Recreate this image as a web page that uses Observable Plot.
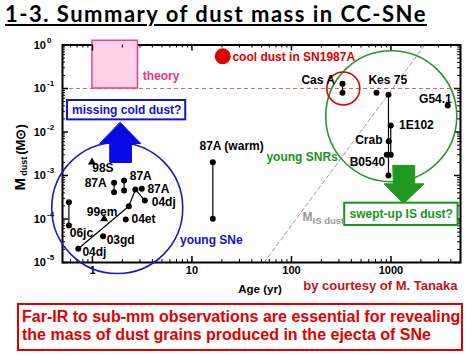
<!DOCTYPE html>
<html><head><meta charset="utf-8">
<script src="https://cdn.jsdelivr.net/npm/d3@7"></script>
<script src="https://cdn.jsdelivr.net/npm/@observablehq/plot@0.6"></script>
<style>
body{margin:0;background:#fff;}
#wrap{position:relative;width:474px;height:355px;overflow:hidden;font-family:"Liberation Sans",Arial,sans-serif;background:#fff;}
#title{position:absolute;left:5px;top:0px;font-family:Lato,"Open Sans",sans-serif;font-weight:bold;font-size:22px;letter-spacing:1.5px;text-decoration:underline;white-space:nowrap;color:#000;}
#chart{position:absolute;left:0;top:34px;}
#note{position:absolute;left:17px;top:303px;width:446px;height:48px;box-sizing:border-box;border:2px solid #e00000;color:#e00000;font-weight:bold;font-size:16px;line-height:17.7px;padding:3px 0 0 3px;white-space:nowrap;}
</style></head>
<body>
<div id="wrap">
<div id="title">1-3. Summary of dust mass in CC-SNe</div>
<div id="chart"></div>
<div id="note">Far-IR to sub-mm observations are essential for revealing<br>the mass of dust grains produced in the ejecta of SNe</div>
</div>
<script>
// ---- axis ticks ----
const xMajor = [1, 10, 100, 1000];
const xTickLabels = ["1", "10", "100", "1000"];
const yMajor = [1e-5, 1e-4, 1e-3, 1e-2, 1e-1, 1];
const yExponents = ["-5", "-4", "-3", "-2", "-1", "0"];
const minorMultipliers = [2, 3, 4, 5, 6, 7, 8, 9];

// ---- young SNe (dots) ----
const sneName  = ["06jc", "06jc", "87A", "87A", "87A", "87A", "04dj", "04dj", "04dj", "04dj", "87A", "04et", "03gd"];
const sneTrack = ["06jc", "06jc", "87Aa", "87Aa", "87Ab", "87Ab", "04dj", "04dj", "04dj", "04dj", null, null, null];
const sneAge   = [0.58, 0.58, 1.65, 1.65, 2.08, 2.08, 0.72, 2.32, 2.70, 3.36, 3.13, 2.16, 1.28];
const sneMass  = [2.43e-4, 7.09e-5, 6.79e-4, 4.13e-4, 7.67e-4, 4.52e-4, 2.07e-5, 1.97e-4, 4.77e-4, 2.66e-4, 4.95e-4, 9.75e-5, 4.03e-5];

// ---- young SNe (triangles) ----
const triName = ["98S", "99em"];
const triAge  = [0.99, 1.31];
const triMass = [2.02e-3, 1.01e-4];

// ---- SN 1987A warm dust ----
const warmAge  = [16.2, 16.2];
const warmMass = [2.02e-3, 1.01e-4];

// ---- SN 1987A cool dust ----
const coolAge = [20.4];
const coolMass = [0.55];

// ---- young SNRs ----
const snrName  = ["Cas A", "Cas A", "Kes 75", "Crab", "1E102", "Crab", "B0540", "B0540", "Crab", "G54.1"];
const snrTrack = ["CasA", "CasA", null, "L1", "L2", null, null, "L2", "L1", null];
const snrAge   = [326, 326, 715, 944, 995, 950, 907, 995, 944, 3720];
const snrMass  = [0.128, 0.0796, 0.0796, 0.0716, 0.0141, 6.15e-3, 2.99e-3, 2.99e-3, 1.0e-3, 0.0407];

// ---- theory range ----
const theoryAge  = [1.0, 2.87];
const theoryMass = [0.1, 1.25];

// ---- swept-up interstellar dust mass line ----
const isAge  = [53, 2186];
const isMass = [1e-5, 1];

// ---- annotation shapes (data space) ----
const groupCircleName = ["young SNe", "young SNRs", "Cas A"];
const groupCircleAge  = [1.775, 1007, 332];
const groupCircleMass = [1.79e-4, 0.0231, 0.1];

const blueArrowAge  = [1.903, 3.058, 2.466, 2.466, 1.492, 1.492, 1.192];
const blueArrowMass = [0.01653, 5.44e-3, 5.44e-3, 1.99e-3, 1.99e-3, 5.44e-3, 5.44e-3];
const greenArrowAge  = [1050, 1734, 1734, 2152, 1336, 852, 1050];
const greenArrowMass = [1.70e-3, 1.70e-3, 6.44e-4, 6.44e-4, 2.24e-4, 6.44e-4, 6.44e-4];

const boxText = ["missing cold dust?", "swept-up IS dust?"];
const boxAge1 = [0.561, 343];
const boxAge2 = [8.66, 4725];
const boxMass1 = [0.0190, 7.09e-5];
const boxMass2 = [0.053, 2.31e-4];
const boxTextAge = [2.21, 1269];
const boxTextMass = [0.0312, 1.27e-4];

// ---- labels ----
const labelText   = ["98S", "87A", "87A", "87A", "04dj", "99em", "04et", "06jc", "03gd", "04dj", "87A (warm)", "Cas A", "Kes 75", "G54.1", "1E102", "Crab", "B0540"];
const labelAge    = [0.995, 1.39, 2.37, 3.57, 3.94, 0.876, 2.47, 0.591, 1.39, 0.793, 11.9, 274, 594, 4085, 1206, 822, 873];
const labelMass   = [1.45e-3, 6.55e-4, 9.64e-4, 4.95e-4, 2.43e-4, 1.43e-4, 9.75e-5, 4.82e-5, 3.2e-5, 1.73e-5, 4.64e-3, 0.153, 0.153, 0.058, 0.01465, 6.38e-3, 2.02e-3];
const labelAnchor = ["start", "end", "start", "start", "start", "start", "start", "start", "start", "start", "start", "end", "start", "end", "start", "end", "end"];

const colorText   = ["cool dust in SN1987A", "theory", "young SNRs", "young SNe"];
const colorAge    = [25.5, 3.2, 292, 7.59];
const colorMass   = [0.516, 0.189, 2.63e-3, 3.2e-5];
const colorAnchor = ["start", "start", "end", "start"];
const colorFill   = ["#e00000", "#e0358a", "#1a941a", "#1212c8"];

// ---- build tables ----
const zip = (keys, ...cols) => cols[0].map((_, i) => Object.fromEntries(keys.map((k, j) => [k, cols[j][i]])));
const sne = zip(["name", "track", "age", "mass"], sneName, sneTrack, sneAge, sneMass);
const tri = zip(["name", "age", "mass"], triName, triAge, triMass);
const warm = zip(["age", "mass"], warmAge, warmMass);
const cool = zip(["age", "mass"], coolAge, coolMass);
const snr = zip(["name", "track", "age", "mass"], snrName, snrTrack, snrAge, snrMass);
const isLine = zip(["age", "mass"], isAge, isMass);
const circles = zip(["name", "age", "mass"], groupCircleName, groupCircleAge, groupCircleMass);
const blueArrow = zip(["age", "mass"], blueArrowAge, blueArrowMass);
const greenArrow = zip(["age", "mass"], greenArrowAge, greenArrowMass);
const boxes = zip(["text", "a1", "a2", "m1", "m2", "ta", "tm"], boxText, boxAge1, boxAge2, boxMass1, boxMass2, boxTextAge, boxTextMass);
const labels = zip(["text", "age", "mass", "anchor"], labelText, labelAge, labelMass, labelAnchor);
const colorLabels = zip(["text", "age", "mass", "anchor", "fill"], colorText, colorAge, colorMass, colorAnchor, colorFill);

const xMinor = [];
for (const d of [0.1, 1, 10, 100, 1000]) for (const m of minorMultipliers) {
  const v = +(m * d).toPrecision(6);
  if (v >= 0.5 && v < 5000) xMinor.push(v);
}
const yMinor = [];
for (const d of [1e-5, 1e-4, 1e-3, 1e-2, 1e-1]) for (const m of minorMultipliers) yMinor.push(+(m * d).toPrecision(6));

const W = 474, H = 270, ML = 62, MR = 14, MT = 10.5, MB = 42;
const innerW = W - ML - MR, innerH = H - MT - MB;
const F = "Liberation Sans, Arial, sans-serif";
const BLUE = "#1212c8", GREEN = "#1a941a", RED = "#e00000";

const textMarks = (rows, fill) => ["start", "middle", "end"].map(a =>
  Plot.text(rows.filter(d => d.anchor === a), {x: "age", y: "mass", text: "text", textAnchor: a, fontSize: 12, fontWeight: "bold", fill: fill ?? "fill"}));

const chart = Plot.plot({
  width: W, height: H,
  marginLeft: ML, marginRight: MR, marginTop: MT, marginBottom: MB,
  x: {type: "log", domain: [0.5, 5000], axis: null},
  y: {type: "log", domain: [1e-5, 1], axis: null},
  style: {fontFamily: F, fontWeight: "bold", background: "white", overflow: "visible"},
  marks: [
    Plot.ruleY([0.1], {stroke: "#e0606e", strokeDasharray: "4,3", strokeWidth: 1}),
    Plot.line(isLine, {x: "age", y: "mass", stroke: "#999", strokeDasharray: "4,3", strokeWidth: 1}),
    Plot.frame({stroke: "black", strokeWidth: 2}),
    Plot.rect([0], {x1: () => theoryAge[0], x2: () => theoryAge[1], y1: () => theoryMass[0], y2: () => theoryMass[1], fill: "#ffd0e8", stroke: "#e8408f", strokeWidth: 1.5}),
    // ticks (inward, all four sides)
    Plot.ruleX(xMajor, {x: d => d, insetTop: innerH - 6, stroke: "black", strokeWidth: 1.5}),
    Plot.ruleX(xMajor, {x: d => d, insetBottom: innerH - 6, stroke: "black", strokeWidth: 1.5}),
    Plot.ruleX(xMinor, {x: d => d, insetTop: innerH - 3, stroke: "black", strokeWidth: 1}),
    Plot.ruleX(xMinor, {x: d => d, insetBottom: innerH - 3, stroke: "black", strokeWidth: 1}),
    Plot.ruleY(yMajor, {y: d => d, insetRight: innerW - 6, stroke: "black", strokeWidth: 1.5}),
    Plot.ruleY(yMajor, {y: d => d, insetLeft: innerW - 6, stroke: "black", strokeWidth: 1.5}),
    Plot.ruleY(yMinor, {y: d => d, insetRight: innerW - 3, stroke: "black", strokeWidth: 1}),
    Plot.ruleY(yMinor, {y: d => d, insetLeft: innerW - 3, stroke: "black", strokeWidth: 1}),
    // tick labels
    Plot.text(xMajor, {x: d => d, frameAnchor: "bottom", dy: 11, text: (d, i) => xTickLabels[i], fontSize: 11, fontWeight: "bold", fill: "black"}),
    Plot.text(yMajor, {y: d => d, frameAnchor: "left", dx: -16.5, text: () => "10", textAnchor: "end", fontSize: 11, fontWeight: "bold", fill: "black"}),
    Plot.text(yMajor, {y: d => d, frameAnchor: "left", dx: -15.5, dy: -5, text: (d, i) => yExponents[i], textAnchor: "start", fontSize: 8, fontWeight: "bold", fill: "black"}),
    // axis titles
    Plot.text(["M"], {frameAnchor: "left", dx: -42, dy: 36.75, rotate: -90, textAnchor: "start", text: d => d, fontSize: 15, fontWeight: "bold", fill: "black"}),
    Plot.text(["dust"], {frameAnchor: "left", dx: -38, dy: 22, rotate: -90, textAnchor: "start", text: d => d, fontSize: 9, fontWeight: "bold", fill: "black"}),
    Plot.text(["(M\u2299)"], {frameAnchor: "left", dx: -42, dy: 1, rotate: -90, textAnchor: "start", text: d => d, fontSize: 13, fontWeight: "bold", fill: "black"}),
    Plot.text(["Age (yr)"], {x: () => 48.3, frameAnchor: "bottom", dy: 30, text: d => d, fontSize: 11.5, fontWeight: "bold", fill: "black"}),
    Plot.text(["by courtesy of M. Tanaka"], {x: () => 4670, frameAnchor: "bottom", dy: 27, textAnchor: "end", text: d => d, fontSize: 13, fontWeight: "bold", fill: "#c0141c"}),
    // group circles
    Plot.dot(circles.slice(0, 1), {x: "age", y: "mass", r: 65.5, stroke: "#1c1cb4", strokeWidth: 1.6, fill: "none"}),
    Plot.dot(circles.slice(1, 2), {x: "age", y: "mass", r: 65.5, stroke: "#2a962a", strokeWidth: 1.6, fill: "none"}),
    Plot.dot(circles.slice(2, 3), {x: "age", y: "mass", r: 16.5, stroke: RED, strokeWidth: 1.6, fill: "none"}),
    Plot.dot(cool, {x: "age", y: "mass", r: 8, fill: RED}),
    // data
    Plot.line(sne.filter(d => d.track), {x: "age", y: "mass", z: "track", stroke: "black", strokeWidth: 1.2}),
    Plot.line(warm, {x: "age", y: "mass", stroke: "black", strokeWidth: 1.2}),
    Plot.line(snr.filter(d => d.track), {x: "age", y: "mass", z: "track", stroke: "black", strokeWidth: 1.2}),
    Plot.dot(sne, {x: "age", y: "mass", r: 3, fill: "black"}),
    Plot.dot(warm, {x: "age", y: "mass", r: 3, fill: "black"}),
    Plot.dot(snr, {x: "age", y: "mass", r: 3, fill: "black"}),
    Plot.dot(tri, {x: "age", y: "mass", r: 3, symbol: "triangle", fill: "black"}),
    // arrows
    Plot.line(blueArrow, {x: "age", y: "mass", curve: "linear-closed", fill: "#0a0ae6", stroke: "#0a0ae6", strokeWidth: 1}),
    Plot.line(greenArrow, {x: "age", y: "mass", curve: "linear-closed", fill: "#1e9a1e", stroke: "#1e9a1e", strokeWidth: 1}),
    // boxes
    Plot.rect(boxes.slice(0, 1), {x1: "a1", x2: "a2", y1: "m1", y2: "m2", fill: "white", stroke: BLUE, strokeWidth: 2}),
    Plot.rect(boxes.slice(1, 2), {x1: "a1", x2: "a2", y1: "m1", y2: "m2", fill: "white", stroke: GREEN, strokeWidth: 2}),
    Plot.text(boxes.slice(0, 1), {x: "ta", y: "tm", text: "text", fill: BLUE, fontSize: 12, fontWeight: "bold"}),
    Plot.text(boxes.slice(1, 2), {x: "ta", y: "tm", text: "text", fill: GREEN, fontSize: 12, fontWeight: "bold"}),
    // labels
    ...textMarks(labels, "black"),
    ...textMarks(colorLabels),
    // M_IS dust label
    Plot.text(["M"], {x: () => 129, y: () => 1.1e-4, text: d => d, textAnchor: "start", fontSize: 12, fontWeight: "bold", fill: "#999"}),
    Plot.text(["IS dust"], {x: () => 163, y: () => 9.0e-5, text: d => d, textAnchor: "start", fontSize: 9.5, fontWeight: "bold", fill: "#999"})
  ]
});
document.getElementById("chart").appendChild(chart);
</script>
</body></html>
